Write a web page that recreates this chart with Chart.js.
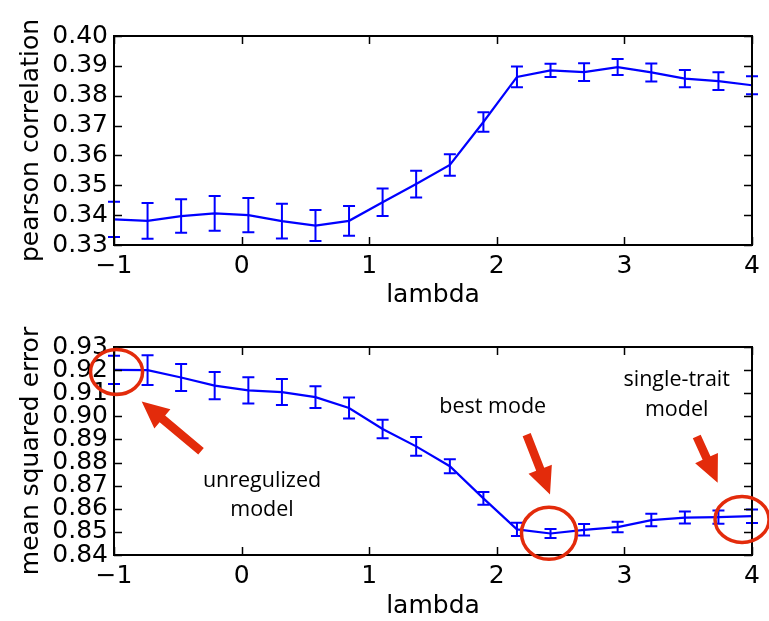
<!DOCTYPE html>
<html>
<head>
<meta charset="utf-8">
<script src="https://cdn.jsdelivr.net/npm/chart.js@4/dist/chart.umd.min.js"></script>
<style>
  body { margin: 0; background: #fff; }
  canvas { position: absolute; left: 0; }
  #topChart { top: 0; }
  #bottomChart { top: 310px; }
</style>
</head>
<body>
<canvas id="topChart" width="769" height="310"></canvas>
<canvas id="bottomChart" width="769" height="311"></canvas>
<script>
// lambda values (x positions of the points)
const lambdas = [-1, -0.737, -0.474, -0.211, 0.053, 0.316, 0.579, 0.842, 1.105, 1.368,
                 1.632, 1.895, 2.158, 2.421, 2.684, 2.947, 3.211, 3.474, 3.737, 4];

// top panel: pearson correlation and its error
const pearson = [0.3386, 0.3381, 0.3397, 0.3406, 0.3400, 0.3380, 0.3365, 0.3381, 0.3443, 0.3504,
                 0.3568, 0.3712, 0.3863, 0.3885, 0.3879, 0.3896, 0.3878, 0.3857, 0.3849, 0.3835];
const pearsonErr = [0.0059, 0.0060, 0.0056, 0.0058, 0.0057, 0.0058, 0.0052, 0.0050, 0.0046, 0.0045,
                    0.0036, 0.0033, 0.0035, 0.0022, 0.0030, 0.0027, 0.0030, 0.0029, 0.0030, 0.0030];

// bottom panel: mean squared error and its error
const mse = [0.9201, 0.9200, 0.9168, 0.9133, 0.9112, 0.9105, 0.9083, 0.9036, 0.8945, 0.8870,
             0.8784, 0.8645, 0.8511, 0.8493, 0.8509, 0.8521, 0.8551, 0.8562, 0.8564, 0.8568];
const mseErr = [0.0061, 0.0064, 0.0058, 0.0059, 0.0057, 0.0056, 0.0047, 0.0045, 0.0040, 0.0041,
                0.0030, 0.0028, 0.0029, 0.0019, 0.0025, 0.0023, 0.0027, 0.0026, 0.0029, 0.0029];

// annotations on the bottom panel (data units)
const circles = [
  { x: -0.98, y: 0.9192, rx: 26, ry: 22.5 },
  { x: 2.409, y: 0.8494, rx: 27.5, ry: 26 },
  { x: 3.922, y: 0.8554, rx: 27, ry: 23 }
];
const arrows = [
  { x0: -0.318, y0: 0.8849, x1: -0.783, y1: 0.9064 },
  { x0: 2.234, y0: 0.8921, x1: 2.417, y1: 0.8662 },
  { x0: 3.567, y0: 0.8913, x1: 3.731, y1: 0.8713 }
];
const notes = [
  { x: 0.160, y: 0.8719, text: 'unregulized' },
  { x: 0.160, y: 0.8597, text: 'model' },
  { x: 1.968, y: 0.9043, text: 'best mode' },
  { x: 3.410, y: 0.9158, text: 'single-trait' },
  { x: 3.410, y: 0.9028, text: 'model' }
];

const BLUE = '#0000ff';
const RED = '#e32b0b';
const tickFont = { family: 'DejaVu Sans', size: 25 };

function fmtX(v) {
  return v < 0 ? '\u2212' + Math.abs(v) : String(v);
}

// error bars drawn through the scales
const errorBars = {
  id: 'errorBars',
  afterDatasetsDraw(chart, args, opts) {
    const { ctx, scales: { x, y } } = chart;
    ctx.save();
    ctx.strokeStyle = BLUE;
    ctx.lineWidth = 2;
    opts.values.forEach((v, i) => {
      const px = x.getPixelForValue(lambdas[i]);
      const top = y.getPixelForValue(v + opts.errors[i]);
      const bot = y.getPixelForValue(v - opts.errors[i]);
      ctx.beginPath();
      ctx.moveTo(px, top); ctx.lineTo(px, bot);
      ctx.moveTo(px - 6, top); ctx.lineTo(px + 6, top);
      ctx.moveTo(px - 6, bot); ctx.lineTo(px + 6, bot);
      ctx.stroke();
    });
    ctx.restore();
  }
};

// matplotlib style frame with inward ticks
const frame = {
  id: 'frame',
  afterDraw(chart) {
    const { ctx, chartArea: a, scales: { x, y } } = chart;
    ctx.save();
    ctx.strokeStyle = '#000';
    ctx.lineWidth = 1.5;
    ctx.beginPath();
    x.ticks.forEach(t => {
      const px = Math.round(x.getPixelForValue(t.value)) + 0.5;
      ctx.moveTo(px, a.top); ctx.lineTo(px, a.top + 8);
      ctx.moveTo(px, a.bottom); ctx.lineTo(px, a.bottom - 8);
    });
    y.ticks.forEach(t => {
      const py = Math.round(y.getPixelForValue(t.value)) + 0.5;
      ctx.moveTo(a.left, py); ctx.lineTo(a.left + 8, py);
      ctx.moveTo(a.right, py); ctx.lineTo(a.right - 8, py);
    });
    ctx.stroke();
    ctx.lineWidth = 2;
    ctx.strokeRect(a.left, a.top, a.right - a.left, a.bottom - a.top);
    ctx.restore();
  }
};

const annotations = {
  id: 'annotations',
  afterDraw(chart) {
    const { ctx, scales: { x, y } } = chart;
    ctx.save();
    ctx.strokeStyle = RED;
    ctx.fillStyle = RED;
    ctx.lineWidth = 3.5;
    circles.forEach(c => {
      ctx.beginPath();
      ctx.ellipse(x.getPixelForValue(c.x), y.getPixelForValue(c.y), c.rx, c.ry, 0, 0, Math.PI * 2);
      ctx.stroke();
    });
    arrows.forEach(ar => {
      const x0 = x.getPixelForValue(ar.x0), y0 = y.getPixelForValue(ar.y0);
      const x1 = x.getPixelForValue(ar.x1), y1 = y.getPixelForValue(ar.y1);
      const ang = Math.atan2(y1 - y0, x1 - x0);
      const headLen = 27, headHalf = 12.5, shaftHalf = 4.3;
      const len = Math.hypot(x1 - x0, y1 - y0);
      ctx.save();
      ctx.translate(x0, y0);
      ctx.rotate(ang);
      ctx.beginPath();
      ctx.moveTo(0, -shaftHalf);
      ctx.lineTo(len - headLen, -shaftHalf);
      ctx.lineTo(len - headLen, -headHalf);
      ctx.lineTo(len, 0);
      ctx.lineTo(len - headLen, headHalf);
      ctx.lineTo(len - headLen, shaftHalf);
      ctx.lineTo(0, shaftHalf);
      ctx.closePath();
      ctx.fill();
      ctx.restore();
    });
    ctx.fillStyle = '#000';
    ctx.font = '21.5px "Open Sans"';
    ctx.textAlign = 'center';
    ctx.textBaseline = 'middle';
    notes.forEach(n => {
      ctx.fillText(n.text, x.getPixelForValue(n.x), y.getPixelForValue(n.y));
    });
    ctx.restore();
  }
};

function makeChart(id, values, errors, yMin, yMax, yTitle, padTop, xHeight, extra) {
  return new Chart(document.getElementById(id), {
    type: 'line',
    data: {
      datasets: [{
        data: lambdas.map((l, i) => ({ x: l, y: values[i] })),
        borderColor: BLUE,
        borderWidth: 2.2,
        pointRadius: 0,
        tension: 0,
        fill: false
      }]
    },
    options: {
      responsive: false,
      animation: false,
      devicePixelRatio: 1,
      layout: { padding: { top: padTop, right: 17, left: 0, bottom: 0 } },
      plugins: {
        legend: { display: false },
        tooltip: { enabled: false },
        errorBars: { values: values, errors: errors }
      },
      scales: {
        x: {
          type: 'linear',
          min: -1, max: 4,
          grid: { display: false, drawTicks: false },
          border: { display: false },
          ticks: { stepSize: 1, font: tickFont, color: '#000', padding: 6, callback: fmtX,
                   maxRotation: 0, autoSkip: false },
          title: { display: true, text: 'lambda', font: tickFont, color: '#000', padding: { top: 1, bottom: 0 } },
          afterFit(s) { s.height = xHeight; }
        },
        y: {
          min: yMin, max: yMax,
          grid: { display: false, drawTicks: false },
          border: { display: false },
          ticks: { stepSize: 0.01, font: tickFont, color: '#000', padding: 6, autoSkip: false,
                   callback: v => v.toFixed(2) },
          title: { display: true, text: yTitle, font: tickFont, color: '#000', padding: 16 },
          afterFit(s) { s.width = 114; }
        }
      }
    },
    plugins: [errorBars, frame].concat(extra)
  });
}

makeChart('topChart', pearson, pearsonErr, 0.33, 0.40, 'pearson correlation', 36, 65, []);
makeChart('bottomChart', mse, mseErr, 0.84, 0.93, 'mean squared error', 37, 66, [annotations]);
</script>
</body>
</html>
